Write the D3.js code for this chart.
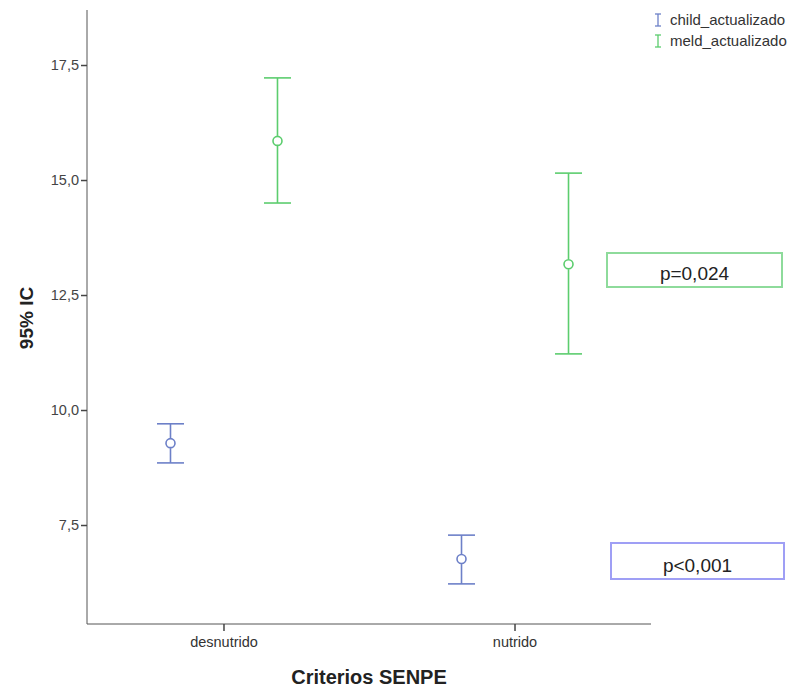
<!DOCTYPE html>
<html><head><meta charset="utf-8">
<script src="https://cdn.jsdelivr.net/npm/d3@7"></script>
<style>body{margin:0;background:#fff;} svg{display:block;font-family:Arial,"Liberation Sans",sans-serif;}</style>
</head><body>
<script>
const categories = ["desnutrido", "nutrido"];
const seriesNames = ["child_actualizado", "meld_actualizado"];
const childMean = [9.28, 6.76];
const childLow = [8.85, 6.22];
const childHigh = [9.70, 7.28];
const meldMean = [15.85, 13.17];
const meldLow = [14.50, 11.22];
const meldHigh = [17.22, 15.15];
const yTicks = [7.5, 10.0, 12.5, 15.0, 17.5];
const pLabels = ["p=0,024", "p<0,001"];

const W = 791, H = 688;
const colors = {child_actualizado: "#6d80c8", meld_actualizado: "#5ccd6e"};
const boxColors = ["#8edb9b", "#9f9ff5"];

const svg = d3.select("body").append("svg").attr("width", W).attr("height", H);

const x0 = 87, x1 = 651, yTop = 10, yBot = 624;
const x = d3.scalePoint().domain(categories).range([x0, x1]).padding(0.469);
const y = d3.scaleLinear().domain([5.348, 18.696]).range([yBot, yTop]);
const offset = d3.scaleOrdinal().domain(seriesNames).range([-53, 54]);

// axes
const yAxis = d3.axisLeft(y).tickValues(yTicks).tickSize(6)
  .tickFormat(d => d3.format(".1f")(d).replace(".", ","));
const gy = svg.append("g").attr("transform", `translate(${x0},0)`).call(yAxis);
gy.select(".domain").attr("stroke", "#555").attr("d", `M0,${yTop}V${yBot}`);
gy.selectAll(".tick line").attr("stroke", "#444").attr("stroke-width", 1.5);
gy.selectAll(".tick text").attr("fill", "#444").attr("font-size", 14.5).attr("x", -8);

const xAxis = d3.axisBottom(x).tickSize(7);
const gx = svg.append("g").attr("transform", `translate(0,${yBot})`).call(xAxis);
gx.select(".domain").attr("stroke", "#555").attr("d", `M${x0},0H${x1}`);
gx.selectAll(".tick line").attr("stroke", "#444").attr("stroke-width", 1.5);
gx.selectAll(".tick text").attr("fill", "#333").attr("font-size", 14.5).attr("y", 13);

// axis titles
svg.append("text").attr("transform", `translate(33,318) rotate(-90)`)
  .attr("text-anchor", "middle").attr("font-weight", "bold").attr("font-size", 19).attr("fill", "#222")
  .text("95% IC");
svg.append("text").attr("x", 369).attr("y", 684).attr("text-anchor", "middle")
  .attr("font-weight", "bold").attr("font-size", 20).attr("fill", "#222").text("Criterios SENPE");

// data
const series = [
  {name: "child_actualizado", mean: childMean, low: childLow, high: childHigh},
  {name: "meld_actualizado", mean: meldMean, low: meldLow, high: meldHigh}
];
const capW = 13.5;
series.forEach(s => {
  const c = colors[s.name];
  const g = svg.append("g");
  categories.forEach((cat, i) => {
    const cx = x(cat) + offset(s.name);
    g.append("line").attr("x1", cx).attr("x2", cx).attr("y1", y(s.high[i])).attr("y2", y(s.mean[i]) - 5)
      .attr("stroke", c).attr("stroke-width", 1.6);
    g.append("line").attr("x1", cx).attr("x2", cx).attr("y1", y(s.mean[i]) + 5).attr("y2", y(s.low[i]))
      .attr("stroke", c).attr("stroke-width", 1.6);
    [s.high[i], s.low[i]].forEach(v => {
      g.append("line").attr("x1", cx - capW).attr("x2", cx + capW).attr("y1", y(v)).attr("y2", y(v))
        .attr("stroke", c).attr("stroke-width", 1.6);
    });
    g.append("circle").attr("cx", cx).attr("cy", y(s.mean[i])).attr("r", 4.5)
      .attr("fill", "none").attr("stroke", c).attr("stroke-width", 1.6);
  });
});

// p-value boxes
const boxes = [
  {x: 607, y: 253, w: 175, h: 34},
  {x: 611, y: 543, w: 173, h: 36}
];
boxes.forEach((b, i) => {
  svg.append("rect").attr("x", b.x).attr("y", b.y).attr("width", b.w).attr("height", b.h)
    .attr("fill", "none").attr("stroke", boxColors[i]).attr("stroke-width", 2);
  svg.append("text").attr("x", b.x + b.w / 2).attr("y", b.y + b.h - 7).attr("text-anchor", "middle")
    .attr("font-size", 19).attr("fill", "#222").text(pLabels[i]);
});

// legend
seriesNames.forEach((n, i) => {
  const ly = 20 + i * 21;
  const g = svg.append("g").attr("transform", `translate(658,${ly})`);
  g.append("line").attr("x1", 0).attr("x2", 0).attr("y1", -6).attr("y2", 6).attr("stroke", colors[n]).attr("stroke-width", 1.3);
  g.append("line").attr("x1", -3).attr("x2", 3).attr("y1", -6).attr("y2", -6).attr("stroke", colors[n]).attr("stroke-width", 1.3);
  g.append("line").attr("x1", -3).attr("x2", 3).attr("y1", 6).attr("y2", 6).attr("stroke", colors[n]).attr("stroke-width", 1.3);
  g.append("text").attr("x", 12).attr("y", 5).attr("font-size", 15).attr("fill", "#333").text(n);
});
</script>
</body></html>
